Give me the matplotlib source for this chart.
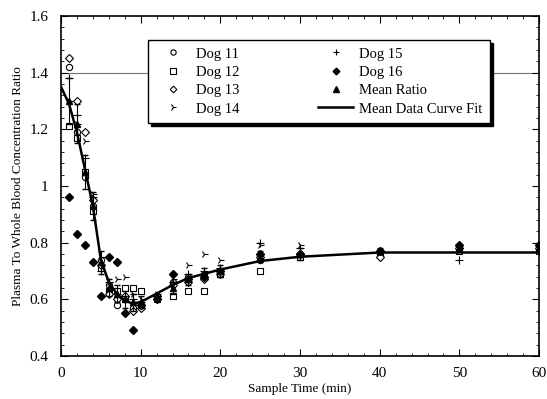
import matplotlib.pyplot as plt
from matplotlib.ticker import MultipleLocator, FormatStrFormatter
from matplotlib.lines import Line2D
import numpy as np

plt.rcParams['font.family'] = ['Liberation Serif', 'DejaVu Serif']

# sample times (min)
t = [1, 2, 3, 4, 5, 6, 7, 8, 9, 10, 12, 14, 16, 18, 20, 25, 30, 40, 50, 60]

# plasma / whole blood ratio per dog
dog11 = [1.42, 1.19, 1.03, 0.93, 0.74, 0.65, 0.58, 0.60, 0.57, 0.58, 0.61, 0.66, 0.68, 0.69, 0.70, 0.74, 0.76, 0.77, 0.78, 0.78]
dog12 = [1.21, 1.17, 1.05, 0.91, 0.71, 0.63, 0.63, 0.64, 0.64, 0.63, 0.60, 0.61, 0.63, 0.63, 0.69, 0.70, 0.75, 0.76, 0.77, 0.77]
dog13 = [1.45, 1.30, 1.19, 0.95, 0.72, 0.62, 0.60, 0.61, 0.56, 0.57, 0.61, 0.65, 0.66, 0.67, 0.69, 0.75, 0.76, 0.75, 0.78, 0.78]
dog14 = [1.30, 1.22, 1.16, 0.97, 0.75, 0.66, 0.67, 0.68, 0.62, 0.60, 0.62, 0.67, 0.72, 0.76, 0.74, 0.79, 0.79, 0.77, 0.78, 0.79]
dog15 = [1.38, 1.25, 1.10, 0.96, 0.70, 0.66, 0.62, 0.61, 0.60, 0.59, 0.61, 0.66, 0.69, 0.70, 0.71, 0.80, 0.78, 0.77, 0.74, 0.77]
dog16 = [0.96, 0.83, 0.79, 0.73, 0.61, 0.75, 0.73, 0.55, 0.49, 0.58, 0.60, 0.69, 0.67, 0.68, 0.70, 0.76, 0.76, 0.77, 0.79, 0.79]

# mean ratio and its spread
mean_ratio = [1.30, 1.22, 1.05, 0.93, 0.73, 0.64, 0.62, 0.60, 0.59, 0.59, 0.61, 0.64, 0.67, 0.69, 0.70, 0.75, 0.76, 0.77, 0.78, 0.78]
mean_err = [0.08, 0.07, 0.06, 0.05, 0.04, 0.03, 0.03, 0.03, 0.03, 0.02, 0.01, 0.02, 0.02, 0.02, 0.02, 0.02, 0.02, 0.01, 0.01, 0.01]

# mean data curve fit
fit_t = [0, 1, 2, 3, 4, 5, 6, 7, 8, 9, 10, 12, 14, 16, 18, 20, 25, 30, 40, 50, 60]
fit_y = [1.35, 1.29, 1.19, 1.06, 0.93, 0.74, 0.66, 0.62, 0.595, 0.585, 0.59, 0.62, 0.65, 0.675, 0.69, 0.705, 0.735, 0.75, 0.765, 0.765, 0.765]

fig = plt.figure(figsize=(5.47, 3.99), dpi=100)
ax = fig.add_axes([0.1115, 0.108, 0.874, 0.852])

ax.axhline(1.4, color='0.45', lw=0.8, zorder=1)

ms = 4.5
h11, = ax.plot(t, dog11, 'o', mfc='white', mec='black', ms=ms, mew=0.8, ls='none', label='Dog 11')
h12, = ax.plot(t, dog12, 's', mfc='white', mec='black', ms=ms, mew=0.8, ls='none', label='Dog 12')
h13, = ax.plot(t, dog13, 'D', mfc='white', mec='black', ms=ms - 0.5, mew=0.8, ls='none', label='Dog 13')
h14, = ax.plot(t, dog14, '4', color='black', ms=ms + 1, mew=0.8, ls='none', label='Dog 14')
h15, = ax.plot(t, dog15, '+', color='black', ms=ms + 1, mew=0.8, ls='none', label='Dog 15')
h16, = ax.plot(t, dog16, 'D', color='black', ms=ms - 0.5, ls='none', label='Dog 16')
ax.errorbar(t, mean_ratio, yerr=mean_err, fmt='^', color='black', ms=ms,
            elinewidth=0.8, capsize=2)
hfit, = ax.plot(fit_t, fit_y, '-', color='black', lw=1.8, label='Mean Data Curve Fit')
hmean = Line2D([], [], marker='^', color='black', ms=ms, ls='none')

ax.set_xlim(0, 60)
ax.set_ylim(0.4, 1.6)
ax.xaxis.set_major_locator(MultipleLocator(10))
ax.xaxis.set_minor_locator(MultipleLocator(2))
ax.yaxis.set_major_locator(MultipleLocator(0.2))
ax.yaxis.set_minor_locator(MultipleLocator(0.04))
ax.yaxis.set_major_formatter(FormatStrFormatter('%g'))
ax.tick_params(which='both', direction='in', top=True, right=True, labelsize=11)
ax.tick_params(axis='x', which='major', pad=8)
ax.tick_params(axis='y', which='major', pad=9)
ax.tick_params(which='major', length=5)
ax.tick_params(which='minor', length=2.5)
for s in ax.spines.values():
    s.set_linewidth(1.2)

ax.set_xlabel('Sample Time (min)', fontsize=9.5, labelpad=2)
ax.set_ylabel('Plasma To Whole Blood Concentration Ratio', fontsize=9.5, labelpad=4)

handles = [h11, h12, h13, h14, h15, h16, hmean, hfit]
labels = ['Dog 11', 'Dog 12', 'Dog 13', 'Dog 14', 'Dog 15', 'Dog 16', 'Mean Ratio', 'Mean Data Curve Fit']
leg = ax.legend(handles, labels, ncol=2, loc='upper left',
                bbox_to_anchor=(0.182, 0.679, 0.715, 0.25),
                mode='expand', fontsize=10.5, frameon=True, fancybox=False,
                edgecolor='black', framealpha=1, handlelength=2.4, handletextpad=0.4,
                labelspacing=0.35, borderpad=0.5, borderaxespad=0, columnspacing=1,
                markerscale=0.85, shadow={'color': 'black', 'alpha': 1})
leg.get_frame().set_linewidth(1.0)
leg.set_zorder(5)

fig.savefig('out.png', dpi=100)
